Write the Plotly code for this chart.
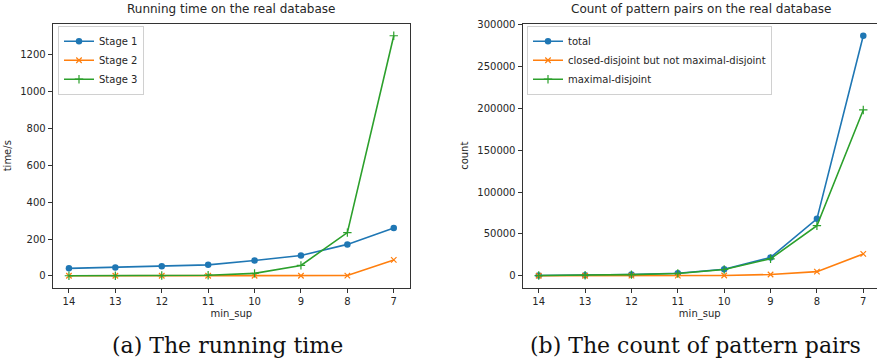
import plotly.graph_objects as go

# x positions (minimum support threshold), shown in decreasing order
min_sup = [14, 13, 12, 11, 10, 9, 8, 7]
x_ticks = [14, 13, 12, 11, 10, 9, 8, 7]

# running time (seconds) per stage
stage1 = [41, 46, 52, 60, 84, 111, 171, 260]
stage2 = [1, 1, 1, 1, 1, 1, 2, 87]
stage3 = [1, 1, 2, 4, 14, 57, 235, 1302]

# number of pattern pairs
total = [300, 600, 1500, 3000, 7700, 21900, 68000, 286600]
closed_not_maximal = [30, 60, 150, 250, 350, 1500, 4900, 26100]
maximal = [270, 540, 1350, 2750, 7500, 20300, 59800, 198000]

BLUE, ORANGE, GREEN = "#1f77b4", "#ff7f0e", "#2ca02c"
TXT = "#262626"
FONT = "DejaVu Sans"
W, H = 877, 363

# axes boxes in pixels
LEFT_BOX = (52.7, 410.0)
RIGHT_BOX = (522.5, 879.5)   # right spine falls just outside the canvas
TOP, BOTTOM = 19.0, 286.7


def padded(vals, frac=0.05):
    lo, hi = min(vals), max(vals)
    pad = (hi - lo) * frac
    return lo - pad, hi + pad


fig = go.Figure()


def add_series(x, y, name, color, symbol, size, xa, ya, legend):
    if symbol == "circle":
        marker = dict(symbol="circle", size=size, color=color)
    else:
        marker = dict(symbol=symbol, size=size, color=color,
                      line=dict(width=1.2, color=color))
    fig.add_trace(go.Scatter(
        x=x, y=y, name=name, mode="lines+markers",
        line=dict(color=color, width=1.6), marker=marker,
        xaxis=xa, yaxis=ya, legend=legend))


add_series(min_sup, stage1, "Stage 1", BLUE, "circle", 6.5, "x", "y", "legend")
add_series(min_sup, stage2, "Stage 2", ORANGE, "x-thin", 5.5, "x", "y", "legend")
add_series(min_sup, stage3, "Stage 3", GREEN, "cross-thin", 6, "x", "y", "legend")

add_series(min_sup, total, "total", BLUE, "circle", 6.5, "x2", "y2", "legend2")
add_series(min_sup, closed_not_maximal, "closed-disjoint but not maximal-disjoint",
           ORANGE, "x-thin", 5.5, "x2", "y2", "legend2")
add_series(min_sup, maximal, "maximal-disjoint", GREEN, "cross-thin", 6, "x2", "y2", "legend2")

# x ranges: 5% margins, reversed
xlo, xhi = padded(min_sup)
x_range_left = [xhi, xlo]
# right panel is clipped by the canvas edge; keep the same scale
full_w = RIGHT_BOX[1] - RIGHT_BOX[0]
vis_w = W - RIGHT_BOX[0]
span = xhi - xlo
x_range_right = [xhi, xhi - span * vis_w / full_w]

y_range_left = list(padded(stage1 + stage2 + stage3))
y_range_right = list(padded(total + closed_not_maximal + maximal))

ydom = [1 - BOTTOM / H, 1 - TOP / H]

axis_common = dict(
    showgrid=False, zeroline=False, showline=True, linecolor="#333", linewidth=1,
    ticks="outside", ticklen=4, tickwidth=1, tickcolor="#333",
    tickfont=dict(family=FONT, size=10, color=TXT),
)
title_font = dict(family=FONT, size=10, color=TXT)
legend_common = dict(xanchor="left", yanchor="top",
                     bgcolor="rgba(255,255,255,0.8)", bordercolor="#d0d0d0", borderwidth=1,
                     font=dict(family=FONT, size=10, color=TXT), itemwidth=30,
                     tracegroupgap=0)

fig.update_layout(
    width=W, height=H, margin=dict(l=0, r=0, t=0, b=0),
    paper_bgcolor="white", plot_bgcolor="white",
    font=dict(family=FONT, color=TXT),
    xaxis=dict(domain=[LEFT_BOX[0] / W, LEFT_BOX[1] / W], range=x_range_left,
               tickmode="array", tickvals=x_ticks, ticktext=[str(t) for t in x_ticks],
               mirror=True, anchor="y",
               title=dict(text="min_sup", font=title_font, standoff=4),
               **axis_common),
    yaxis=dict(domain=ydom, range=y_range_left, tickvals=[0, 200, 400, 600, 800, 1000, 1200],
               mirror=True, anchor="x",
               title=dict(text="time/s", font=title_font, standoff=6),
               **axis_common),
    xaxis2=dict(domain=[RIGHT_BOX[0] / W, 1.0], range=x_range_right,
                tickmode="array", tickvals=x_ticks, ticktext=[str(t) for t in x_ticks],
                mirror=True, anchor="y2",
                title=dict(text="min_sup", font=title_font, standoff=4),
                **axis_common),
    yaxis2=dict(domain=ydom, range=y_range_right,
                tickvals=[0, 50000, 100000, 150000, 200000, 250000, 300000],
                tickformat="d", mirror=False, anchor="x2",
                title=dict(text="count", font=title_font, standoff=6),
                **axis_common),
    legend=dict(x=58 / W, y=1 - 21 / H, **legend_common),
    legend2=dict(x=527 / W, y=1 - 21 / H, **legend_common),
    showlegend=True,
)

annotations = [
    dict(text="Running time on the real database", x=(LEFT_BOX[0] + LEFT_BOX[1]) / 2 / W,
         y=1 - 4 / H, font=dict(family=FONT, size=12, color=TXT)),
    dict(text="Count of pattern pairs on the real database",
         x=(RIGHT_BOX[0] + RIGHT_BOX[1]) / 2 / W, y=1 - 4 / H,
         font=dict(family=FONT, size=12, color=TXT)),
    dict(text="(a) The running time", x=227 / W, y=1 - 345.5 / H,
         font=dict(family="DejaVu Serif", size=22, color="#111")),
    dict(text="(b) The count of pattern pairs", x=695.5 / W, y=1 - 345.5 / H,
         font=dict(family="DejaVu Serif", size=22, color="#111")),
]
for a in annotations:
    a.update(xref="paper", yref="paper", showarrow=False, xanchor="center", yanchor="middle")
fig.update_layout(annotations=annotations)

fig.write_html("out.html")
